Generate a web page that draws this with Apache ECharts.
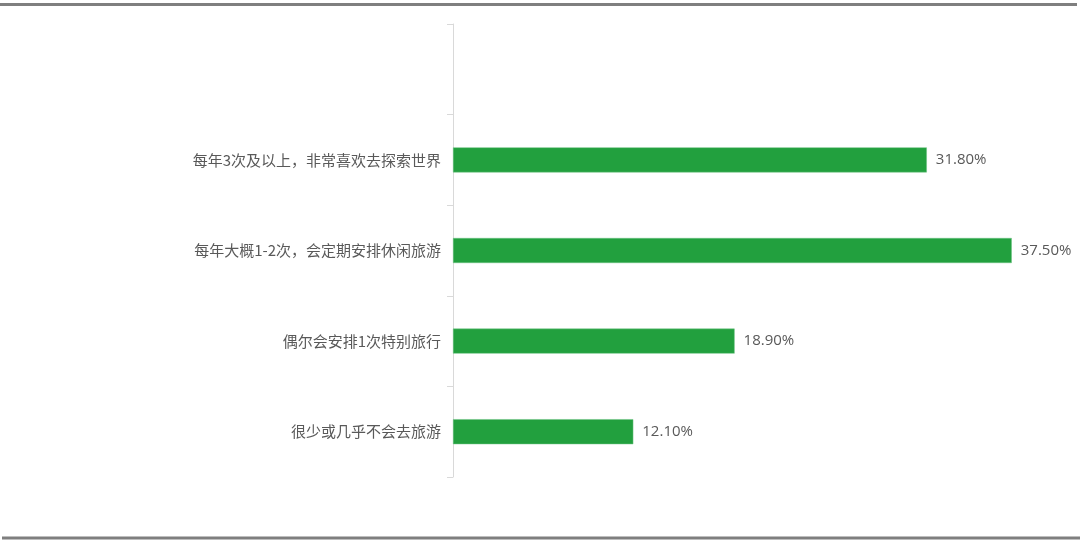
<!DOCTYPE html>
<html>
<head>
<meta charset="utf-8">
<script src="https://cdn.jsdelivr.net/npm/echarts@6/dist/echarts.min.js"></script>
<style>
    html, body {margin: 0; padding: 0; background: #fff;}
    #chart {width: 1080px; height: 541px;}
</style>
</head>
<body>
<div id="chart"></div>
<script>
// 类别（从上到下），顶部留一个空位
var categories = ['', '每年3次及以上，非常喜欢去探索世界', '每年大概1-2次，会定期安排休闲旅游', '偶尔会安排1次特别旅行', '很少或几乎不会去旅游'];
var values = [null, 31.8, 37.5, 18.9, 12.1];

var chart = echarts.init(document.getElementById('chart'));

var option = {
    backgroundColor: '#fff',
    animation: false,
    grid: {
        left: 453,
        right: 31,
        top: 24,
        bottom: 64
    },
    xAxis: {
        type: 'value',
        min: 0,
        max: 40,
        show: false
    },
    yAxis: {
        type: 'category',
        inverse: true,
        data: categories,
        axisLine: {lineStyle: {color: '#d9d9d9', width: 1}},
        axisTick: {show: true, length: 6, lineStyle: {color: '#d9d9d9'}},
        axisLabel: {
            margin: 12,
            color: '#595959',
            fontSize: 15,
            fontFamily: 'Noto Sans CJK SC'
        }
    },
    series: [{
        type: 'bar',
        data: values,
        barWidth: 25,
        itemStyle: {color: '#22a03e', borderColor: '#6cc283', borderWidth: 0.5},
        label: {
            show: true,
            position: 'right',
            distance: 9,
            color: '#595959',
            fontSize: 15,
            fontFamily: 'Open Sans',
            formatter: function (p) {
                return p.value == null ? '' : p.value.toFixed(2) + '%';
            }
        }
    }],
    graphic: [
        {
            type: 'line',
            shape: {x1: 0, y1: 4.5, x2: 1077, y2: 4.5},
            style: {stroke: '#7f7f7f', lineWidth: 3}
        },
        {
            type: 'line',
            shape: {x1: 2, y1: 538, x2: 1080, y2: 538},
            style: {stroke: '#7f7f7f', lineWidth: 3}
        }
    ]
};

chart.setOption(option);
</script>
</body>
</html>
